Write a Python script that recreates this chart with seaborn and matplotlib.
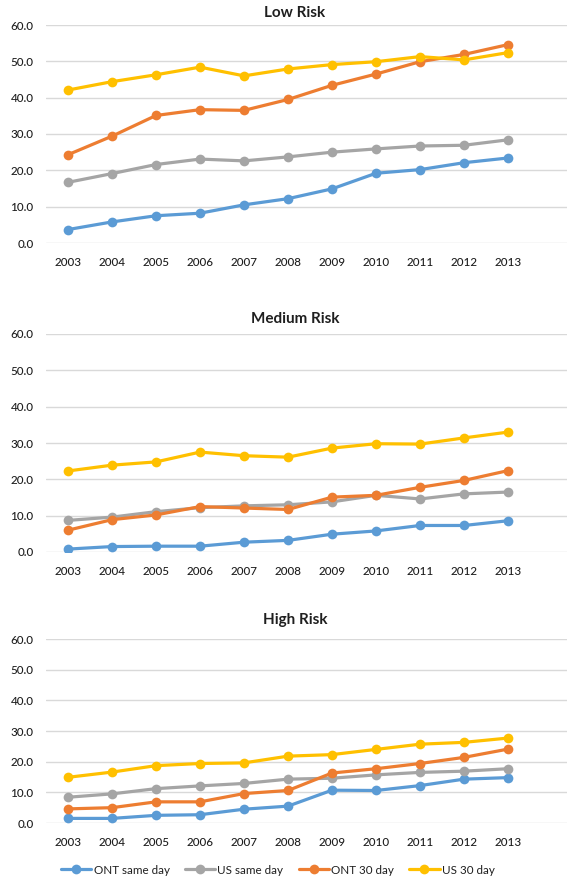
import matplotlib
matplotlib.use("Agg")
import matplotlib.pyplot as plt
import seaborn as sns
import pandas as pd
from matplotlib.ticker import FormatStrFormatter

years = [2003, 2004, 2005, 2006, 2007, 2008, 2009, 2010, 2011, 2012, 2013]
series_names = ["ONT same day", "US same day", "ONT 30 day", "US 30 day"]
panel_titles = ["Low Risk", "Medium Risk", "High Risk"]

low_ont_same = [3.7, 5.8, 7.5, 8.2, 10.5, 12.2, 14.9, 19.2, 20.2, 22.1, 23.4]
low_us_same = [16.7, 19.1, 21.6, 23.1, 22.6, 23.7, 25.0, 25.9, 26.7, 26.9, 28.4]
low_ont_30 = [24.3, 29.4, 35.1, 36.7, 36.5, 39.5, 43.4, 46.5, 49.9, 51.9, 54.6]
low_us_30 = [42.1, 44.4, 46.3, 48.4, 46.0, 47.9, 49.1, 49.9, 51.3, 50.4, 52.4]

med_ont_same = [0.8, 1.5, 1.6, 1.6, 2.7, 3.2, 4.9, 5.8, 7.3, 7.3, 8.6]
med_us_same = [8.7, 9.6, 11.1, 12.2, 12.7, 13.0, 13.8, 15.6, 14.6, 16.0, 16.5]
med_ont_30 = [6.0, 8.9, 10.2, 12.5, 12.1, 11.7, 15.1, 15.6, 17.8, 19.7, 22.4]
med_us_30 = [22.3, 23.9, 24.8, 27.5, 26.5, 26.1, 28.6, 29.8, 29.7, 31.4, 33.0]

high_ont_same = [1.5, 1.5, 2.5, 2.7, 4.5, 5.5, 10.7, 10.6, 12.2, 14.3, 14.8]
high_us_same = [8.4, 9.5, 11.2, 12.1, 12.9, 14.3, 14.6, 15.7, 16.5, 16.9, 17.7]
high_ont_30 = [4.6, 5.0, 6.9, 6.9, 9.6, 10.6, 16.3, 17.7, 19.4, 21.4, 24.1]
high_us_30 = [14.9, 16.6, 18.7, 19.4, 19.6, 21.8, 22.3, 24.0, 25.7, 26.3, 27.7]

panels = [
    [low_ont_same, low_us_same, low_ont_30, low_us_30],
    [med_ont_same, med_us_same, med_ont_30, med_us_30],
    [high_ont_same, high_us_same, high_ont_30, high_us_30],
]

colors = ["#5B9BD5", "#A5A5A5", "#ED7D31", "#FFC000"]
palette = dict(zip(series_names, colors))

sns.set_style("white")
plt.rcParams["font.family"] = ["Lato", "DejaVu Sans"]

fig = plt.figure(figsize=(5.67, 8.82), dpi=100)
W, H = 567, 882
boxes = [(25, 243), (334, 552), (639, 823)]
left_px = 46
title_y = [13, 319, 620]

text_color = "#1F1F1F"
for i, (vals, (top, bot)) in enumerate(zip(panels, boxes)):
    ax = fig.add_axes([left_px / W, 1 - bot / H, 1 - left_px / W, (bot - top) / H])
    rows = []
    for name, v in zip(series_names, vals):
        for j, y in enumerate(v):
            rows.append({"pos": j, "year": years[j], "value": y, "series": name})
    df = pd.DataFrame(rows)
    sns.lineplot(data=df, x="pos", y="value", hue="series", palette=palette,
                 hue_order=series_names, marker="o", markersize=7,
                 markeredgewidth=0, linewidth=2.3, ax=ax, legend=(i == 2))
    ax.set_ylim(0, 60)
    ax.set_yticks([0, 10, 20, 30, 40, 50, 60])
    ax.yaxis.set_major_formatter(FormatStrFormatter("%.1f"))
    ax.set_xlim(-0.5, 11.34)
    ax.set_xticks(range(len(years)))
    ax.set_xticklabels([str(y) for y in years])
    ax.grid(axis="y", color="#D9D9D9", linewidth=1.0)
    ax.set_axisbelow(True)
    for s in ax.spines.values():
        s.set_visible(False)
    ax.tick_params(axis="both", length=0, labelsize=8.4, colors=text_color)
    ax.tick_params(axis="x", pad=10)
    ax.tick_params(axis="y", pad=9)
    for lab in ax.get_xticklabels() + ax.get_yticklabels():
        lab.set_fontweight("medium")
    ax.set_xlabel("")
    ax.set_ylabel("")
    fig.text(0.5 + 0.02, 1 - title_y[i] / H, panel_titles[i], ha="center", va="center",
             fontsize=11, fontweight="bold", color=text_color)
    if i == 2:
        handles, labels = ax.get_legend_handles_labels()
        ax.get_legend().remove()
        fig.legend(handles, labels, loc="center", bbox_to_anchor=(0.49, 1 - 870 / H),
                   ncol=4, frameon=False, fontsize=8.4, handlelength=2.6,
                   handletextpad=0.2, columnspacing=1.3, labelcolor=text_color)

fig.savefig("out.png", dpi=100)
